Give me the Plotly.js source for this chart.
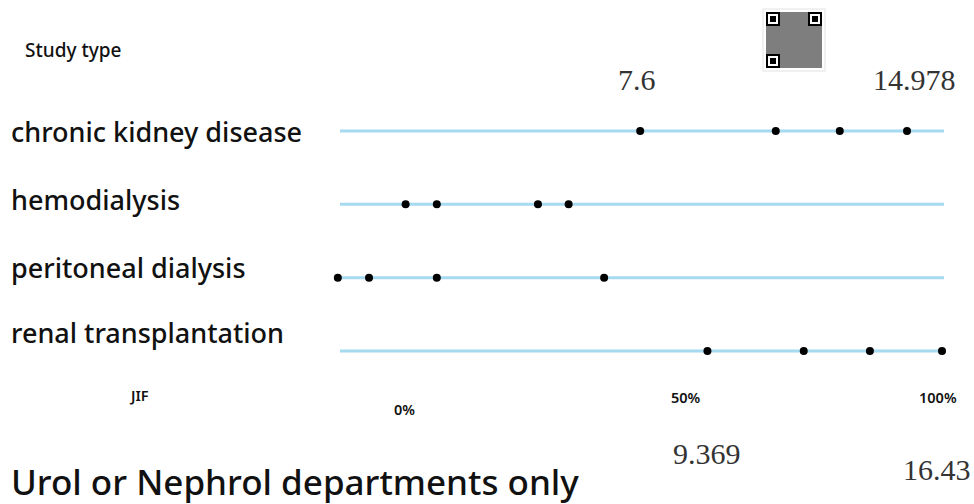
<!DOCTYPE html>
<html>
<head>
<meta charset="utf-8">
<script src="https://cdn.plot.ly/plotly-3.0.1.min.js"></script>
<style>html,body{margin:0;padding:0;background:#fff}#chart{width:974px;height:504px}</style>
</head>
<body>
<div id="chart"></div>
<script>
// ---- data ----
const studyTypes = ["chronic kidney disease", "hemodialysis", "peritoneal dialysis", "renal transplantation"];
const ckdValues = [43.9, 69.1, 81.0, 93.5];
const hdValues = [0.3, 6.1, 24.9, 30.6];
const pdValues = [-12.3, -6.5, 6.1, 37.2];
const rtValues = [56.4, 74.3, 86.6, 100];
const tickValues = [0, 50, 100];
const tickLabels = ["0%", "50%", "100%"];
const jifTop = ["7.6", "14.978"];
const jifBottom = ["9.369", "16.43"];

const rows = [ckdValues, hdValues, pdValues, rtValues];
const xs = [], ys = [];
rows.forEach((vals, i) => vals.forEach(v => { xs.push(v); ys.push(studyTypes[i]); }));

// ---- layout geometry ----
const W = 974, H = 504;
const M = {l: 325, r: 20, t: 109, b: 131};
const pw = W - M.l - M.r, ph = H - M.t - M.b;
const px = x => (x - M.l) / pw;
const py = y => (H - M.b - y) / ph;
const PXPER = 5.38, ZERO = 404;

const labelFont = {family: "Noto Sans, Open Sans, sans-serif", size: 27, color: "#111", weight: 500};
const serif = {family: "Liberation Serif, DejaVu Serif, serif", size: 30, color: "#333"};
const small = {family: "Noto Sans, Open Sans, sans-serif", size: 14.5, color: "#111", weight: 600};

const annotations = [];
const labelY = [131, 199, 267, 332];
studyTypes.forEach((s, i) => annotations.push({
  xref: "paper", yref: "paper", x: px(9), y: py(labelY[i]), xanchor: "left", yanchor: "middle",
  text: s, showarrow: false, font: labelFont
}));
annotations.push({xref: "paper", yref: "paper", x: px(23), y: py(50), xanchor: "left", yanchor: "middle",
  text: "Study type", showarrow: false, font: {family: "Noto Sans, sans-serif", size: 19, color: "#111", weight: 500}});
annotations.push({xref: "paper", yref: "paper", x: px(9), y: py(481), xanchor: "left", yanchor: "middle",
  text: "Urol or Nephrol departments only", showarrow: false, font: {family: "Noto Sans, sans-serif", size: 35, color: "#111", weight: 500}});
annotations.push({xref: "paper", yref: "paper", x: px(139), y: py(395), xanchor: "center", yanchor: "middle",
  text: "JIF", showarrow: false, font: small});
const tickY = [409, 397, 397];
const tickShift = [0, 13, -4];
tickValues.forEach((v, i) => annotations.push({
  xref: "x", yref: "paper", x: v, y: py(tickY[i]), xshift: tickShift[i], xanchor: "center", yanchor: "middle",
  text: tickLabels[i], showarrow: false, font: small
}));
// JIF value annotations, aligned with first/last dot of CKD and RT rows
annotations.push({xref: "x", yref: "paper", x: ckdValues[0], y: py(79), xanchor: "center", yanchor: "middle", xshift: -3,
  text: jifTop[0], showarrow: false, font: serif});
annotations.push({xref: "x", yref: "paper", x: ckdValues[3], y: py(79), xanchor: "center", yanchor: "middle", xshift: 7,
  text: jifTop[1], showarrow: false, font: serif});
annotations.push({xref: "x", yref: "paper", x: rtValues[0], y: py(453), xanchor: "center", yanchor: "middle",
  text: jifBottom[0], showarrow: false, font: serif});
annotations.push({xref: "paper", yref: "paper", x: px(901), y: py(469), xanchor: "left", yanchor: "middle",
  text: jifBottom[1], showarrow: false, font: serif});

const shapes = [];
// row lines
studyTypes.forEach(s => shapes.push({type: "line", xref: "paper", yref: "y", x0: px(340), x1: px(944), y0: s, y1: s,
  line: {color: "#a6daf0", width: 3}, layer: "below"}));

// QR-like decoration
const qx = 766, qy = 12, qs = 56;
shapes.push({type: "rect", xref: "paper", yref: "paper", x0: px(qx - 3), x1: px(qx + qs + 3), y0: py(qy - 3), y1: py(qy + qs + 3),
  line: {color: "#e2e2e2", width: 1}, fillcolor: "#fff", layer: "above"});
shapes.push({type: "rect", xref: "paper", yref: "paper", x0: px(qx), x1: px(qx + qs), y0: py(qy), y1: py(qy + qs),
  line: {width: 0}, fillcolor: "rgba(40,40,40,0.6)", layer: "above"});
[[0, 0], [qs - 14, 0], [0, qs - 14]].forEach(([dx, dy]) => {
  shapes.push({type: "rect", xref: "paper", yref: "paper", x0: px(qx + dx), x1: px(qx + dx + 14), y0: py(qy + dy), y1: py(qy + dy + 14),
    line: {width: 0}, fillcolor: "#000", layer: "above"});
  shapes.push({type: "rect", xref: "paper", yref: "paper", x0: px(qx + dx + 2), x1: px(qx + dx + 12), y0: py(qy + dy + 2), y1: py(qy + dy + 12),
    line: {width: 0}, fillcolor: "#fff", layer: "above"});
  shapes.push({type: "rect", xref: "paper", yref: "paper", x0: px(qx + dx + 4), x1: px(qx + dx + 10), y0: py(qy + dy + 4), y1: py(qy + dy + 10),
    line: {width: 0}, fillcolor: "#000", layer: "above"});
});

const trace = {
  type: "scatter", mode: "markers", x: xs, y: ys,
  marker: {color: "#000", size: 8}, cliponaxis: false, hoverinfo: "x+y"
};

const layout = {
  width: W, height: H, margin: M,
  paper_bgcolor: "#fff", plot_bgcolor: "#fff",
  showlegend: false,
  xaxis: {range: [(M.l - ZERO) / PXPER, (W - M.r - ZERO) / PXPER], showgrid: false, zeroline: false, showticklabels: false, ticks: ""},
  yaxis: {type: "category", categoryorder: "array", categoryarray: studyTypes, range: [3.3, -0.3],
    showgrid: false, zeroline: false, showticklabels: false, ticks: ""},
  annotations, shapes
};

Plotly.newPlot("chart", [trace], layout, {displayModeBar: false, staticPlot: true});
</script>
</body>
</html>
